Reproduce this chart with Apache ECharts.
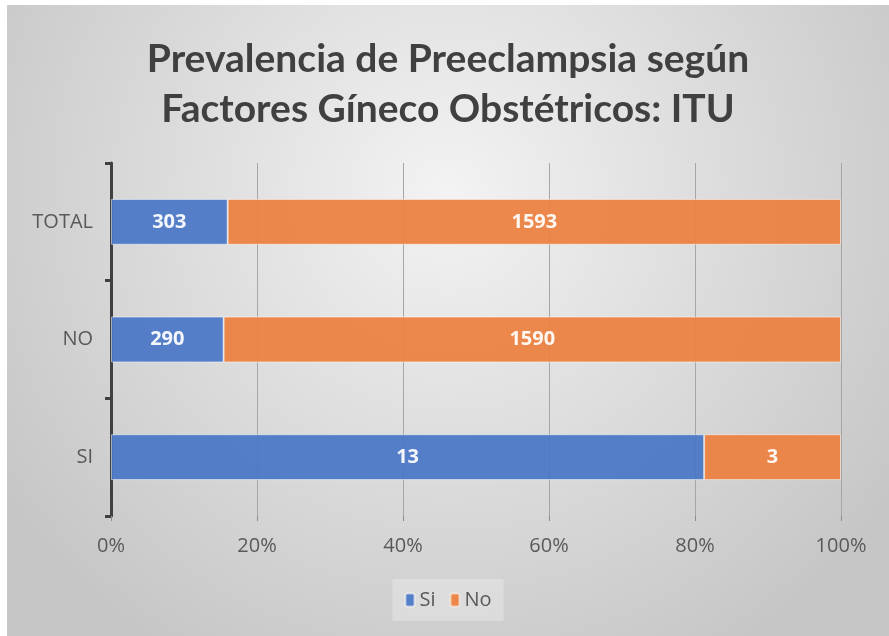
<!DOCTYPE html>
<html>
<head>
<meta charset="utf-8">
<script src="https://cdn.jsdelivr.net/npm/echarts@6/dist/echarts.min.js"></script>
<style>
  html, body { margin: 0; padding: 0; background: #ffffff; }
  #chart { position: absolute; left: 7px; top: 5px; width: 882px; height: 631px; }
</style>
</head>
<body>
<div id="chart"></div>
<script>
(function() {
  var categories = ['SI', 'NO', 'TOTAL'];
  var siCounts = [13, 290, 303];
  var noCounts = [3, 1590, 1593];
  var seriesNames = ['Si', 'No'];
  var xTicks = [0, 20, 40, 60, 80, 100];

  var ink = '#404040';
  var muted = '#595959';
  var blue = '#4a76c6';
  var orange = '#ed8040';

  function toPercent(counts, other) {
    return counts.map(function(c, i) {
      return { value: c / (c + other[i]) * 100, count: c };
    });
  }

  var chart = echarts.init(document.getElementById('chart'), null, { renderer: 'canvas' });
  chart.setOption({
    animation: false,
    backgroundColor: {
      type: 'radial', x: 0.5, y: 0.3, r: 0.85,
      colorStops: [
        { offset: 0, color: '#f3f3f3' },
        { offset: 1, color: '#c6c6c6' }
      ]
    },
    title: {
      text: 'Prevalencia de Preeclampsia según\nFactores Gíneco Obstétricos: ITU',
      left: 'center',
      top: 24,
      textStyle: {
        color: ink,
        fontFamily: 'Lato',
        fontWeight: 'bold',
        fontSize: 39,
        lineHeight: 50
      }
    },
    legend: {
      data: seriesNames,
      left: 'center',
      top: 574,
      itemWidth: 9,
      itemHeight: 13,
      itemGap: 14,
      padding: [11, 12],
      backgroundColor: 'rgba(255,255,255,0.25)',
      textStyle: { color: muted, fontSize: 20, fontFamily: 'Open Sans' }
    },
    grid: { left: 104, right: 48, top: 158, bottom: 120 },
    xAxis: {
      type: 'value',
      min: 0,
      max: 100,
      interval: 20,
      axisLine: { show: false },
      axisTick: { show: true, length: 5, lineStyle: { color: '#8c8c8c' } },
      splitLine: { lineStyle: { color: '#a6a6a6', width: 1 } },
      axisLabel: {
        color: muted, fontSize: 20, fontFamily: 'Open Sans', margin: 20,
        formatter: function(v) { return xTicks.indexOf(v) >= 0 ? v + '%' : ''; }
      }
    },
    yAxis: {
      type: 'category',
      data: categories,
      axisLine: { lineStyle: { color: ink, width: 3 } },
      axisTick: { show: true, length: 6, lineStyle: { color: ink, width: 3 } },
      axisLabel: { color: muted, fontSize: 20, fontFamily: 'Open Sans', margin: 18 }
    },
    series: [{
      name: seriesNames[0],
      type: 'bar',
      stack: 'total',
      barWidth: '39%',
      data: toPercent(siCounts, noCounts),
      itemStyle: { color: blue, opacity: 0.93, borderColor: 'rgba(255,255,255,0.55)', borderWidth: 1 },
      label: {
        show: true, position: 'inside', color: '#ffffff',
        fontSize: 20, fontWeight: 'bold', fontFamily: 'Open Sans',
        formatter: function(p) { return p.data.count; }
      }
    }, {
      name: seriesNames[1],
      type: 'bar',
      stack: 'total',
      barWidth: '39%',
      data: toPercent(noCounts, siCounts),
      itemStyle: { color: orange, opacity: 0.93, borderColor: 'rgba(255,255,255,0.55)', borderWidth: 1 },
      label: {
        show: true, position: 'inside', color: '#ffffff',
        fontSize: 20, fontWeight: 'bold', fontFamily: 'Open Sans',
        formatter: function(p) { return p.data.count; }
      }
    }]
  });
  window.addEventListener('resize', function() { chart.resize(); });
})();
</script>
</body>
</html>
